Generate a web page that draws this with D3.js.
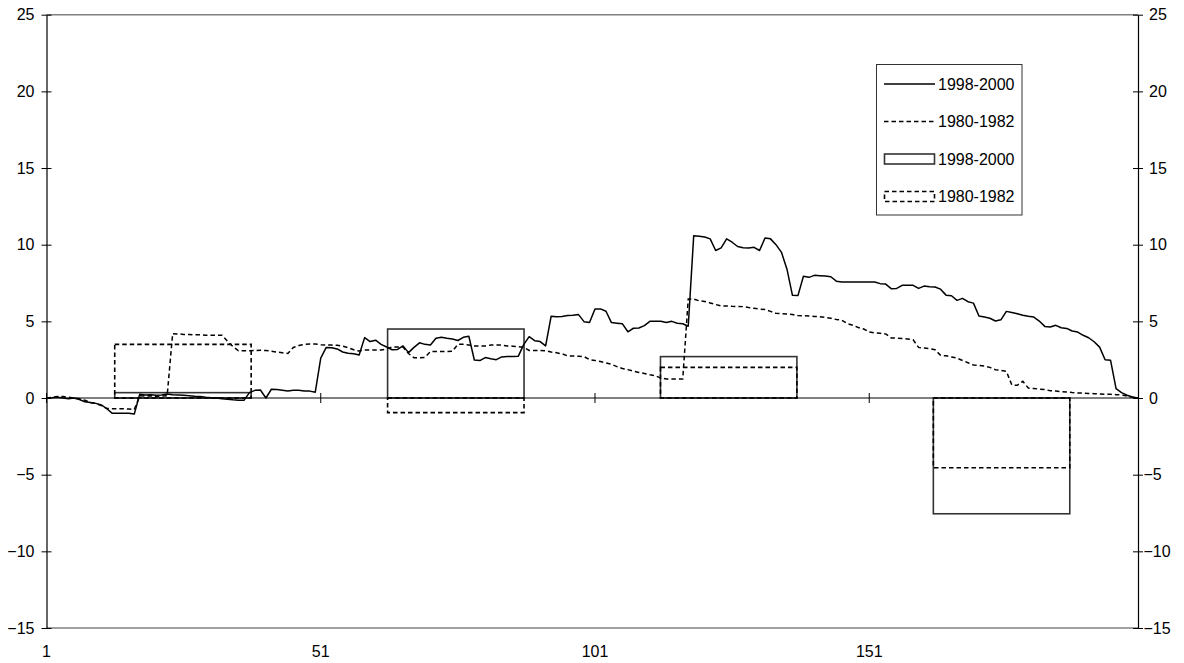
<!DOCTYPE html>
<html>
<head>
<meta charset="utf-8">
<script src="https://cdn.jsdelivr.net/npm/d3@7/dist/d3.min.js"></script>
<style>
  html, body { margin: 0; padding: 0; background: #fff; }
  svg { display: block; }
  text { font-family: "Liberation Sans", Arial, sans-serif; font-size: 16px; fill: #000; }
</style>
</head>
<body>
<svg id="chart" width="1184" height="663"></svg>
<script>
// ---------- data ----------
const xTickLabels = ["1", "51", "101", "151"];
const yTicks = [-15, -10, -5, 0, 5, 10, 15, 20, 25];
const seriesNames = ["1998-2000", "1980-1982"];

// line series (categories 1..200)
const line1998 = [
  0.0, 0.02, 0.05, 0.0, -0.05, 0.0, -0.1, -0.25, -0.3, -0.35,
  -0.45, -0.7, -1.0, -1.0, -1.0, -1.0, -1.05, 0.25, 0.2, 0.22,
  0.18, 0.2, 0.26, 0.22, 0.2, 0.18, 0.15, 0.12, 0.1, 0.05,
  0.02, 0.0, -0.05, -0.08, -0.12, -0.15, -0.15, 0.35, 0.5, 0.52,
  0.0, 0.57, 0.55, 0.5, 0.45, 0.5, 0.5, 0.45, 0.45, 0.38,
  2.6, 3.3, 3.28, 3.2, 3.0, 2.92, 2.88, 2.8, 3.94, 3.68,
  3.77, 3.5, 3.33, 3.15, 3.17, 3.4, 2.96, 3.3, 3.6, 3.5,
  3.46, 3.9, 3.96, 3.9, 3.85, 3.75, 3.96, 4.03, 2.48, 2.44,
  2.64, 2.56, 2.5, 2.68, 2.7, 2.71, 2.72, 3.48, 4.0, 3.74,
  3.68, 3.4, 5.33, 5.3, 5.32, 5.38, 5.4, 5.44, 4.98, 4.92,
  5.81, 5.81, 5.66, 4.92, 4.88, 4.84, 4.32, 4.55, 4.57, 4.72,
  5.0, 5.0, 5.0, 4.92, 5.0, 4.88, 4.84, 4.68, 10.59, 10.55,
  10.5, 10.38, 9.62, 9.79, 10.38, 10.16, 9.88, 9.8, 9.79, 9.83,
  9.62, 10.44, 10.38, 10.0, 9.5, 8.4, 6.7, 6.68, 7.94, 7.87,
  8.0, 7.98, 7.95, 7.91, 7.62, 7.57, 7.57, 7.57, 7.57, 7.57,
  7.57, 7.57, 7.46, 7.43, 7.13, 7.15, 7.35, 7.35, 7.35, 7.15,
  7.3, 7.26, 7.24, 7.1, 6.71, 6.67, 6.37, 6.5, 6.28, 6.19,
  5.35, 5.28, 5.2, 5.02, 5.1, 5.65, 5.58, 5.5, 5.4, 5.33,
  5.28, 5.02, 4.67, 4.63, 4.74, 4.58, 4.54, 4.37, 4.3, 4.09,
  3.93, 3.67, 3.32, 2.5, 2.46, 0.61, 0.35, 0.18, 0.07, 0.0
];
const line1980 = [
  0.0, 0.05, 0.1, 0.1, 0.05, 0.0, -0.05, -0.15, -0.3, -0.35,
  -0.5, -0.68, -0.7, -0.7, -0.7, -0.72, -0.75, 0.15, 0.12, 0.15,
  0.1, 0.12, 0.15, 4.2, 4.18, 4.15, 4.15, 4.12, 4.12, 4.1,
  4.1, 4.1, 4.1, 3.7, 3.35, 3.08, 3.08, 3.08, 3.1, 3.12,
  3.1, 3.05, 3.0, 2.95, 2.9, 3.3, 3.42, 3.5, 3.52, 3.52,
  3.48, 3.46, 3.45, 3.44, 3.38, 3.28, 3.15, 3.06, 3.13, 3.13,
  3.13, 3.13, 3.2, 3.32, 3.32, 3.32, 2.9, 2.63, 2.63, 2.65,
  3.03, 3.03, 3.03, 3.03, 3.05, 3.5, 3.5, 3.45, 3.39, 3.39,
  3.4, 3.45, 3.45, 3.45, 3.4, 3.38, 3.35, 3.3, 3.1, 3.1,
  3.1, 3.08, 3.0, 2.95, 2.88, 2.75, 2.74, 2.72, 2.7, 2.5,
  2.45, 2.38, 2.28, 2.2, 2.05, 1.92, 1.85, 1.75, 1.67, 1.6,
  1.52, 1.45, 1.3, 1.24, 1.24, 1.24, 1.24, 6.45, 6.45, 6.34,
  6.3, 6.2, 6.1, 6.0, 6.0, 5.98, 5.97, 5.96, 5.9, 5.85,
  5.8, 5.77, 5.65, 5.52, 5.5, 5.48, 5.44, 5.38, 5.36, 5.35,
  5.32, 5.3, 5.26, 5.2, 5.12, 5.08, 4.85, 4.75, 4.6, 4.5,
  4.3, 4.24, 4.22, 4.18, 3.92, 3.9, 3.88, 3.85, 3.8, 3.3,
  3.26, 3.22, 3.15, 2.78, 2.75, 2.68, 2.6, 2.45, 2.3, 2.15,
  2.13, 2.08, 2.0, 1.85, 1.8, 1.74, 0.85, 0.83, 1.09, 0.65,
  0.62, 0.58, 0.55, 0.48, 0.45, 0.42, 0.4, 0.36, 0.33, 0.32,
  0.3, 0.28, 0.26, 0.25, 0.24, 0.22, 0.2, 0.12, 0.05, 0.0
];

// bar series (four period groups on a secondary category axis)
const barGroups = ["g1", "g2", "g3", "g4"];
const bar1998 = [0.35, 4.5, 2.7, -7.55];
const bar1980 = [3.5, -0.95, 2.0, -4.55];

// ---------- layout ----------
const svg = d3.select("#chart");
const X0 = 46.5, X1 = 1138, YTOP = 14.7, YBOT = 628;
const N = line1998.length;

const x = d3.scaleLinear().domain([1, N]).range([X0, X1]);
const y = d3.scaleLinear().domain([-15, 25]).range([YBOT, YTOP]);
const xb = d3.scaleBand().domain(barGroups).range([X0, X1])
  .paddingInner(0.5).paddingOuter(0.25);

const dashPat = "4.5,3";

// plot area border (top/bottom grey)
svg.append("line").attr("x1", X0).attr("x2", X1).attr("y1", y(25)).attr("y2", y(25))
  .attr("stroke", "#808080").attr("stroke-width", 1.5);
svg.append("line").attr("x1", X0).attr("x2", X1).attr("y1", y(-15)).attr("y2", y(-15))
  .attr("stroke", "#808080").attr("stroke-width", 1.5);

// bars (outline only)
const barData = barGroups.map((g, i) => ({ g, v98: bar1998[i], v80: bar1980[i] }));
svg.append("g").selectAll("rect").data(barData).join("rect")
  .attr("x", d => xb(d.g)).attr("width", xb.bandwidth())
  .attr("y", d => y(Math.max(0, d.v98))).attr("height", d => Math.abs(y(d.v98) - y(0)))
  .attr("fill", "none").attr("stroke", "#333").attr("stroke-width", 1.6);
svg.append("g").selectAll("rect").data(barData).join("rect")
  .attr("x", d => xb(d.g)).attr("width", xb.bandwidth())
  .attr("y", d => y(Math.max(0, d.v80))).attr("height", d => Math.abs(y(d.v80) - y(0)))
  .attr("fill", "none").attr("stroke", "#000").attr("stroke-width", 1.6)
  .attr("stroke-dasharray", dashPat);

// zero category axis with crossing ticks
svg.append("line").attr("x1", X0).attr("x2", X1).attr("y1", y(0)).attr("y2", y(0))
  .attr("stroke", "#000").attr("stroke-width", 1);
const xTickVals = xTickLabels.map(Number);
svg.append("g").selectAll("line").data(xTickVals).join("line")
  .attr("x1", d => x(d)).attr("x2", d => x(d))
  .attr("y1", y(0) - 5).attr("y2", y(0) + 5)
  .attr("stroke", "#000").attr("stroke-width", 1);
svg.append("g").selectAll("text").data(xTickLabels).join("text")
  .attr("x", d => x(+d)).attr("y", 657)
  .attr("text-anchor", "middle").text(d => d);

// lines
const lineGen = d3.line().x((d, i) => x(i + 1)).y(d => y(d));
svg.append("path").datum(line1980).attr("d", lineGen)
  .attr("fill", "none").attr("stroke", "#000").attr("stroke-width", 1.5)
  .attr("stroke-dasharray", dashPat);
svg.append("path").datum(line1998).attr("d", lineGen)
  .attr("fill", "none").attr("stroke", "#000").attr("stroke-width", 1.5)
  .attr("stroke-linejoin", "round");

// value axes (left and right)
const leftAxis = d3.axisLeft(y).tickValues(yTicks).tickSize(0).tickPadding(12);
const gl = svg.append("g").attr("transform", `translate(${X0},0)`).call(leftAxis);
gl.select(".domain").attr("stroke", "#000").attr("stroke-width", 1.2);
gl.selectAll(".tick text").attr("font-size", 16).attr("font-family", "Liberation Sans, Arial, sans-serif").attr("fill", "#000");
gl.selectAll(".tick").append("line").attr("x1", -5).attr("x2", 5).attr("stroke", "#000");

const rightAxis = d3.axisRight(y).tickValues(yTicks).tickSize(0).tickPadding(11);
const gr = svg.append("g").attr("transform", `translate(${X1},0)`).call(rightAxis);
gr.select(".domain").attr("stroke", "#000").attr("stroke-width", 1.2);
gr.selectAll(".tick text").attr("font-size", 16).attr("font-family", "Liberation Sans, Arial, sans-serif").attr("fill", "#000")
  .attr("dx", d => d < 0 ? -5.5 : 0);
gr.selectAll(".tick").append("line").attr("x1", -5).attr("x2", 5).attr("stroke", "#000");

// legend
const lg = svg.append("g");
lg.append("rect").attr("x", 876.5).attr("y", 64.5).attr("width", 145.5).attr("height", 150.5)
  .attr("fill", "#fff").attr("stroke", "#333").attr("stroke-width", 1);
const legendItems = [
  { label: seriesNames[0], type: "line", dash: null, yy: 84 },
  { label: seriesNames[1], type: "line", dash: dashPat, yy: 121.5 },
  { label: seriesNames[0], type: "bar", dash: null, yy: 159 },
  { label: seriesNames[1], type: "bar", dash: dashPat, yy: 196.5 }
];
legendItems.forEach(it => {
  if (it.type === "line") {
    lg.append("line").attr("x1", 884).attr("x2", 935).attr("y1", it.yy).attr("y2", it.yy)
      .attr("stroke", "#000").attr("stroke-width", 1.5)
      .attr("stroke-dasharray", it.dash);
  } else {
    lg.append("rect").attr("x", 884.5).attr("y", it.yy - 5).attr("width", 50).attr("height", 10)
      .attr("fill", "none").attr("stroke", it.dash ? "#000" : "#333").attr("stroke-width", 1.6)
      .attr("stroke-dasharray", it.dash);
  }
  lg.append("text").attr("x", 938).attr("y", it.yy + 5.5).text(it.label);
});
</script>
</body>
</html>
